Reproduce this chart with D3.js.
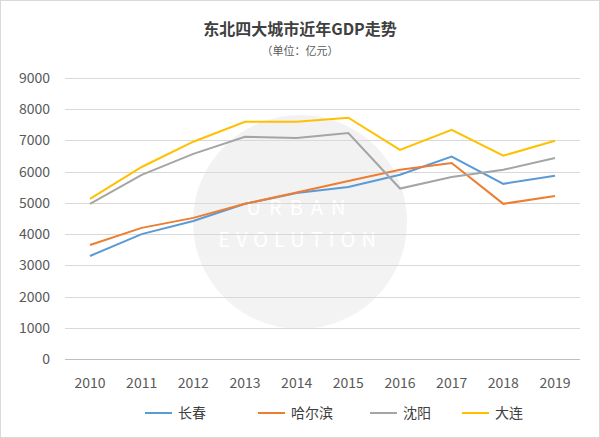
<!DOCTYPE html>
<html>
<head>
<meta charset="utf-8">
<script src="https://cdn.jsdelivr.net/npm/d3@7"></script>
<style>
  body { margin: 0; background: #fff; }
  text { font-family: "Noto Sans CJK SC", "Liberation Sans", sans-serif; }
</style>
</head>
<body>
<svg id="chart" width="600" height="438"></svg>
<script>
// Data
var years = ["2010", "2011", "2012", "2013", "2014", "2015", "2016", "2017", "2018", "2019"];
var changchun = [3300, 4000, 4420, 4970, 5320, 5510, 5900, 6480, 5610, 5870];
var harbin = [3650, 4200, 4520, 4970, 5330, 5700, 6060, 6280, 4970, 5220];
var shenyang = [4970, 5900, 6570, 7120, 7080, 7240, 5460, 5830, 6060, 6440];
var dalian = [5130, 6150, 6960, 7600, 7600, 7730, 6700, 7340, 6510, 6990];
var yTicks = [0, 1000, 2000, 3000, 4000, 5000, 6000, 7000, 8000, 9000];

var series = [
  { name: "长春", values: changchun, color: "#5b9bd5" },
  { name: "哈尔滨", values: harbin, color: "#ed7d31" },
  { name: "沈阳", values: shenyang, color: "#a5a5a5" },
  { name: "大连", values: dalian, color: "#ffc000" }
];

var svg = d3.select("#chart");

// outer border
svg.append("rect").attr("x", 0.5).attr("y", 0.5).attr("width", 599).attr("height", 437)
  .attr("fill", "#fff").attr("stroke", "#d9d9d9");

// title
svg.append("text").attr("x", 300).attr("y", 35).attr("text-anchor", "middle")
  .attr("font-size", 16).attr("font-weight", "bold").attr("fill", "#404040")
  .text("东北四大城市近年GDP走势");
svg.append("text").attr("x", 300).attr("y", 55).attr("text-anchor", "middle")
  .attr("font-size", 11).attr("fill", "#595959").text("（单位：亿元）");

var x = d3.scalePoint().domain(years).range([90, 555]);
var y = d3.scaleLinear().domain([0, 9000]).range([359, 78]);

// watermark
var wm = svg.append("g").attr("opacity", 0.1);
wm.append("circle").attr("cx", 300).attr("cy", 222).attr("r", 107).attr("fill", "#888");
wm.append("text").attr("x", 300).attr("y", 215).attr("text-anchor", "middle")
  .attr("font-size", 20).attr("letter-spacing", 8).attr("fill", "#fff").text("URBAN");
wm.append("text").attr("x", 300).attr("y", 247).attr("text-anchor", "middle")
  .attr("font-size", 20).attr("letter-spacing", 6).attr("fill", "#fff").text("EVOLUTION");

// gridlines
svg.append("g").selectAll("line").data(yTicks).join("line")
  .attr("x1", 65).attr("x2", 580)
  .attr("y1", d => Math.round(y(d)) + 0.5).attr("y2", d => Math.round(y(d)) + 0.5)
  .attr("stroke", d => d === 0 ? "#bfbfbf" : "#d9d9d9");

// y axis labels
svg.append("g").selectAll("text").data(yTicks).join("text")
  .attr("x", 50).attr("y", d => y(d) + 5).attr("text-anchor", "end")
  .attr("font-size", 14).attr("fill", "#595959").text(d => d);

// x axis labels
svg.append("g").selectAll("text").data(years).join("text")
  .attr("x", d => x(d)).attr("y", 388).attr("text-anchor", "middle")
  .attr("font-size", 14).attr("fill", "#595959").text(d => d);

// lines
var line = d3.line().x((d, i) => x(years[i])).y(d => y(d));
svg.append("g").selectAll("path").data(series).join("path")
  .attr("d", d => line(d.values)).attr("fill", "none")
  .attr("stroke", d => d.color).attr("stroke-width", 2);

// legend
var legX = [145, 258, 370, 462];
var leg = svg.append("g").selectAll("g").data(series).join("g")
  .attr("transform", (d, i) => "translate(" + legX[i] + ",413)");
leg.append("line").attr("x1", 0).attr("x2", 27).attr("stroke", d => d.color).attr("stroke-width", 2);
leg.append("text").attr("x", 33).attr("y", 5).attr("font-size", 14).attr("fill", "#404040")
  .text(d => d.name);
</script>
</body>
</html>
